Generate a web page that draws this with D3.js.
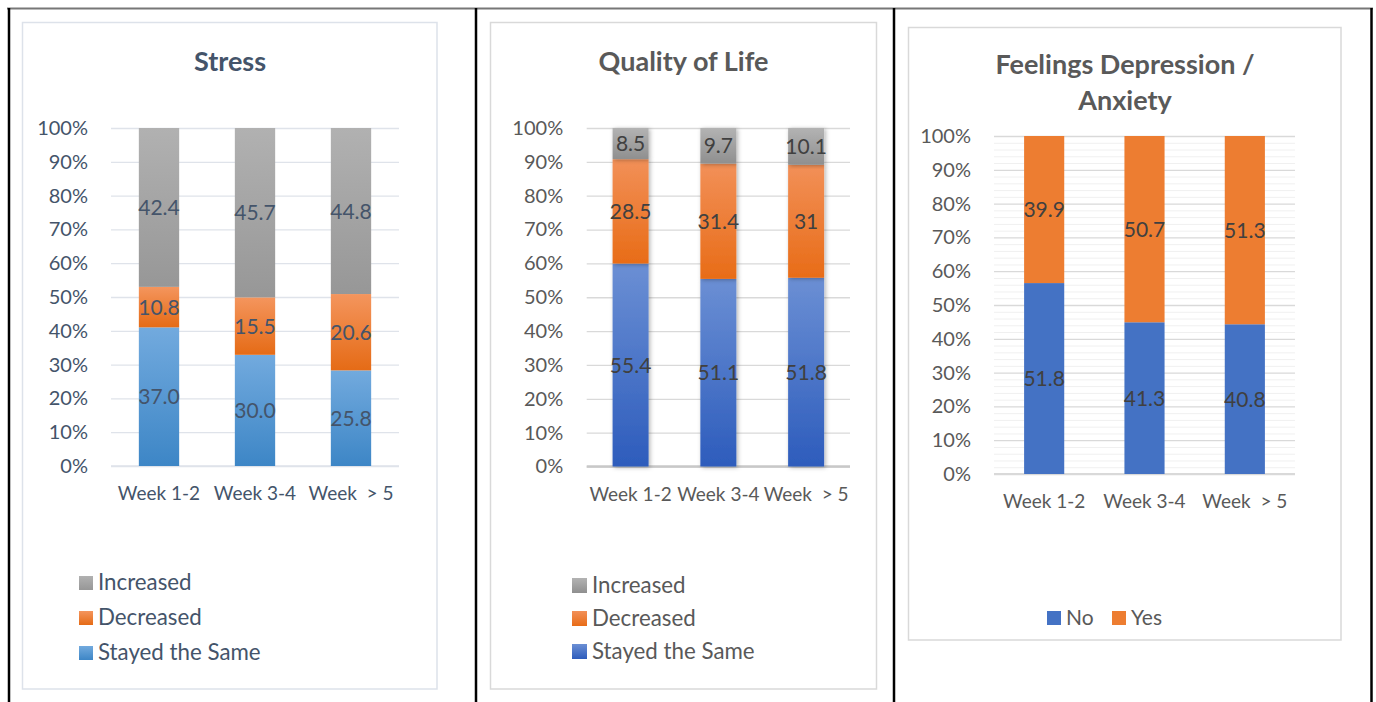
<!DOCTYPE html>
<html>
<head>
<meta charset="utf-8">
<script src="https://cdn.jsdelivr.net/npm/d3@7"></script>
<style>
  html, body { margin: 0; padding: 0; background: #fff; }
  svg { display: block; }
  text { font-family: Lato, "Open Sans", sans-serif; white-space: pre; }
</style>
</head>
<body>
<svg id="chart" width="1376" height="702"></svg>
<script>
// ---------- data ----------
const weeks = ["Week 1-2", "Week 3-4", "Week  > 5"];
const yTickValues = [0, 0.1, 0.2, 0.3, 0.4, 0.5, 0.6, 0.7, 0.8, 0.9, 1.0];

const stressSeries = ["Stayed the Same", "Decreased", "Increased"];
const stressStayed = [37.0, 30.0, 25.8];
const stressDecreased = [10.8, 15.5, 20.6];
const stressIncreased = [42.4, 45.7, 44.8];

const qolSeries = ["Stayed the Same", "Decreased", "Increased"];
const qolStayed = [55.4, 51.1, 51.8];
const qolDecreased = [28.5, 31.4, 31];
const qolIncreased = [8.5, 9.7, 10.1];

const depSeries = ["No", "Yes"];
const depNo = [51.8, 41.3, 40.8];
const depYes = [39.9, 50.7, 51.3];

// ---------- drawing ----------
const svg = d3.select("#chart");
const defs = svg.append("defs");

// drop shadow for chart 2
const f = defs.append("filter").attr("id", "shadow").attr("x", "-30%").attr("y", "-10%").attr("width", "160%").attr("height", "120%");
f.append("feDropShadow").attr("dx", 1.5).attr("dy", 1).attr("stdDeviation", 2).attr("flood-color", "#000").attr("flood-opacity", 0.3);

function gradient(id, c1, c2) {
  const g = defs.append("linearGradient").attr("id", id).attr("x1", 0).attr("y1", 0).attr("x2", 0).attr("y2", 1);
  g.append("stop").attr("offset", "0%").attr("stop-color", c1);
  g.append("stop").attr("offset", "100%").attr("stop-color", c2);
  return `url(#${id})`;
}

// table lines
svg.append("line").attr("x1", 7).attr("x2", 1373).attr("y1", 8.5).attr("y2", 8.5).attr("stroke", "#777").attr("stroke-width", 2);
[9, 476, 894, 1371.5].forEach(x => {
  svg.append("line").attr("x1", x).attr("x2", x).attr("y1", 8).attr("y2", 702).attr("stroke", "#000").attr("stroke-width", 2.5);
});

function drawChart(cfg) {
  const g = svg.append("g");
  // frame
  g.append("rect").attr("x", cfg.frame[0]).attr("y", cfg.frame[1]).attr("width", cfg.frame[2]).attr("height", cfg.frame[3])
    .attr("fill", "#fff").attr("stroke", cfg.frameColor).attr("stroke-width", 1.5);

  // title
  cfg.title.forEach((t, i) => {
    g.append("text").attr("x", cfg.titleX).attr("y", cfg.titleY + i * cfg.titleLH).attr("text-anchor", "middle")
      .attr("font-size", cfg.titleSize).attr("font-weight", "bold").attr("fill", cfg.titleColor).text(t);
  });

  const x = d3.scaleBand().domain(weeks).range([cfg.plot[0], cfg.plot[1]]).paddingInner(cfg.pad).paddingOuter(cfg.pad / 2);
  const y = d3.scaleLinear().domain([0, 1]).range([cfg.plot[3], cfg.plot[2]]);
  const w = cfg.plot[1] - cfg.plot[0];

  // minor gridlines
  if (cfg.minor) {
    const minorTicks = d3.range(0, 1.0001, 0.02).filter(v => Math.round(v * 100) % 10 !== 0);
    g.append("g").attr("transform", `translate(${cfg.plot[0]},0)`)
      .call(d3.axisLeft(y).tickValues(minorTicks).tickSize(-w).tickFormat(""))
      .call(s => s.select(".domain").remove())
      .call(s => s.selectAll("line").attr("stroke", "#f0f0f0").attr("stroke-width", 1));
  }
  // major gridlines
  g.append("g").attr("transform", `translate(${cfg.plot[0]},0)`)
    .call(d3.axisLeft(y).tickValues(yTickValues).tickSize(-w).tickFormat(""))
    .call(s => s.select(".domain").remove())
    .call(s => s.selectAll("line").attr("stroke", cfg.gridColor).attr("stroke-width", 1.3));
  // baseline axis line
  g.append("line").attr("x1", cfg.plot[0]).attr("x2", cfg.plot[1]).attr("y1", y(0)).attr("y2", y(0))
    .attr("stroke", cfg.axisColor).attr("stroke-width", cfg.axisWidth);

  // y labels
  g.append("g").attr("transform", `translate(${cfg.plot[0]},0)`)
    .call(d3.axisLeft(y).tickValues(yTickValues).tickSize(0).tickPadding(cfg.tickPad).tickFormat(d3.format(".0%")))
    .call(s => s.select(".domain").remove())
    .call(s => s.selectAll("text").attr("fill", cfg.textColor).attr("font-size", cfg.axisSize).attr("font-family", "Lato, sans-serif"));

  // x labels
  g.append("g").attr("transform", `translate(0,${y(0)})`)
    .call(d3.axisBottom(x).tickSize(0).tickPadding(0))
    .call(s => s.select(".domain").remove())
    .call(s => s.selectAll("text").attr("fill", cfg.textColor).attr("font-size", cfg.xSize)
      .attr("font-family", "Lato, sans-serif").attr("dy", null).attr("y", cfg.xLabelDy));

  // stacked data
  const rows = weeks.map((wk, i) => {
    const r = { week: wk };
    cfg.series.forEach((s, j) => r[s] = cfg.values[j][i]);
    return r;
  });
  const stacked = d3.stack().keys(cfg.series).offset(d3.stackOffsetExpand)(rows);

  stacked.forEach((layer, j) => {
    const lg = g.append("g");
    if (cfg.shadow) lg.attr("filter", "url(#shadow)");
    lg.selectAll("rect").data(layer).join("rect")
      .attr("x", d => x(d.data.week)).attr("width", x.bandwidth())
      .attr("y", d => y(d[1])).attr("height", d => y(d[0]) - y(d[1]))
      .attr("fill", cfg.fills[j]);
  });
  stacked.forEach((layer, j) => {
    g.append("g").selectAll("text").data(layer).join("text")
      .attr("x", d => x(d.data.week) + x.bandwidth() / 2)
      .attr("y", d => (y(d[0]) + y(d[1])) / 2)
      .attr("dy", "0.36em").attr("text-anchor", "middle")
      .attr("font-size", cfg.labelSize).attr("fill", cfg.labelColor)
      .text(d => cfg.fmt(d.data[layer.key]));
  });

  // legend
  cfg.legend.forEach(item => {
    const j = cfg.series.indexOf(item.key);
    g.append("rect").attr("x", item.x).attr("y", item.y - cfg.sq).attr("width", cfg.sq).attr("height", cfg.sq).attr("fill", cfg.fills[j]);
    g.append("text").attr("x", item.x + cfg.sq + 5).attr("y", item.y).attr("font-size", cfg.legendSize)
      .attr("fill", cfg.textColor).text(item.key);
  });
}

// Chart 1: Stress
drawChart({
  frame: [22.5, 22.5, 414.5, 666.5], frameColor: "#dde2ea",
  title: ["Stress"], titleX: 230, titleY: 71, titleLH: 0, titleSize: 27, titleColor: "#44546a",
  plot: [111, 399, 128, 466], pad: 0.58, minor: false, gridColor: "#dfe3ea", axisColor: "#dfe3ea", axisWidth: 1.3,
  tickPad: 23, textColor: "#44546a", axisSize: 20, xSize: 19, xLabelDy: 34,
  series: stressSeries, values: [stressStayed, stressDecreased, stressIncreased],
  fills: [gradient("s1b", "#72aade", "#3d86c6"), gradient("s1o", "#f4955d", "#e56b16"), gradient("s1g", "#b1b1b1", "#979797")],
  labelSize: 21, labelColor: "#44546a", fmt: v => v.toFixed(1), shadow: false,
  legend: [{ key: "Increased", x: 79, y: 590 }, { key: "Decreased", x: 79, y: 625 }, { key: "Stayed the Same", x: 79, y: 660 }],
  sq: 14, legendSize: 22.3
});

// Chart 2: Quality of Life
drawChart({
  frame: [490.5, 22.5, 386, 666.5], frameColor: "#d9d9d9",
  title: ["Quality of Life"], titleX: 683.5, titleY: 71, titleLH: 0, titleSize: 27, titleColor: "#595959",
  plot: [586.7, 850, 128, 466.5], pad: 0.59, minor: false, gridColor: "#d9d9d9", axisColor: "#c8c8c8", axisWidth: 2.5,
  tickPad: 23.5, textColor: "#595959", axisSize: 20, xSize: 19, xLabelDy: 34,
  series: qolSeries, values: [qolStayed, qolDecreased, qolIncreased],
  fills: [gradient("s2b", "#6b8fd4", "#2d5cbc"), gradient("s2o", "#f29058", "#e86c17"), gradient("s2g", "#b3b3b3", "#8f8f8f")],
  labelSize: 21, labelColor: "#404040", fmt: v => String(v), shadow: true,
  legend: [{ key: "Increased", x: 572, y: 593 }, { key: "Decreased", x: 572, y: 626 }, { key: "Stayed the Same", x: 572, y: 659 }],
  sq: 15, legendSize: 22.3
});

// Chart 3: Feelings Depression / Anxiety
drawChart({
  frame: [908.5, 27.5, 432.5, 612.5], frameColor: "#d9d9d9",
  title: ["Feelings Depression /", "Anxiety"], titleX: 1125, titleY: 74, titleLH: 36, titleSize: 27, titleColor: "#595959",
  plot: [994, 1295, 136, 474], pad: 0.6, minor: true, gridColor: "#d9d9d9", axisColor: "#d9d9d9", axisWidth: 2,
  tickPad: 23, textColor: "#595959", axisSize: 20, xSize: 19, xLabelDy: 34,
  series: depSeries, values: [depNo, depYes],
  fills: ["#4472c4", "#ed7d31"],
  labelSize: 21, labelColor: "#404040", fmt: v => String(v), shadow: false,
  legend: [{ key: "No", x: 1047, y: 625 }, { key: "Yes", x: 1112, y: 625 }],
  sq: 14, legendSize: 21
});
</script>
</body>
</html>
